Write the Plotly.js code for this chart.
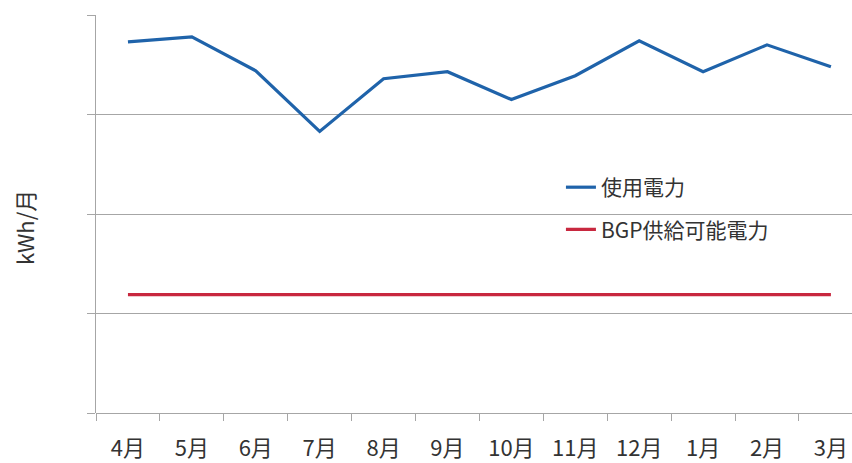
<!DOCTYPE html>
<html>
<head>
<meta charset="utf-8">
<script src="https://cdn.plot.ly/plotly-3.0.1.min.js"></script>
<style>html,body{margin:0;padding:0;background:#fff;}#chart{width:852px;height:463px;}</style>
</head>
<body>
<div id="chart"></div>
<script>
const months = ["4月","5月","6月","7月","8月","9月","10月","11月","12月","1月","2月","3月"];
const usage = [373, 378, 344, 283, 336, 343, 315, 339, 374, 343, 370, 348];
const bgpSupply = [119, 119, 119, 119, 119, 119, 119, 119, 119, 119, 119, 119];
const seriesNames = ["使用電力", "BGP供給可能電力"];
const yTitle = "kWh/月";

const font = "'Noto Sans CJK JP', 'Noto Sans', sans-serif";
const traces = [
  {x: months, y: usage, name: seriesNames[0], type: "scatter", mode: "lines",
   line: {color: "#1f63aa", width: 3.2}, legend: "legend"},
  {x: months, y: bgpSupply, name: seriesNames[1], type: "scatter", mode: "lines",
   line: {color: "#c8283f", width: 3.2}, legend: "legend2"}
];
const legendCommon = {xanchor: "left", yanchor: "top", bgcolor: "rgba(0,0,0,0)",
  font: {family: font, size: 21, color: "#333"}};
const layout = {
  width: 852, height: 463,
  margin: {l: 96, r: 0, t: 15, b: 50},
  paper_bgcolor: "#fff", plot_bgcolor: "#fff",
  showlegend: true,
  legend: Object.assign({x: 0.615, y: 0.618}, legendCommon),
  legend2: Object.assign({x: 0.615, y: 0.512}, legendCommon),
  xaxis: {
    type: "category", range: [-0.5, 11.33],
    tickson: "boundaries", ticks: "outside", ticklen: 7, tickcolor: "#a6a6a6", tickwidth: 1,
    showgrid: false, showline: false, zeroline: false,
    ticklabelstandoff: 20,
    tickfont: {family: font, size: 22, color: "#333"}
  },
  yaxis: {
    range: [0, 400], dtick: 100, tick0: 0,
    showticklabels: false, ticks: "outside", ticklen: 8, tickcolor: "#a6a6a6",
    showgrid: true, gridcolor: "#a6a6a6", gridwidth: 1,
    zeroline: true, zerolinecolor: "#a6a6a6", zerolinewidth: 1,
    showline: true, linecolor: "#a6a6a6", linewidth: 1
  },
  annotations: [{
    text: yTitle, xref: "paper", yref: "paper", x: -0.095, y: 0.465,
    xanchor: "center", yanchor: "middle", textangle: -90, showarrow: false,
    font: {family: font, size: 22, color: "#333"}
  }]
};
Plotly.newPlot("chart", traces, layout, {staticPlot: true});
</script>
</body>
</html>
